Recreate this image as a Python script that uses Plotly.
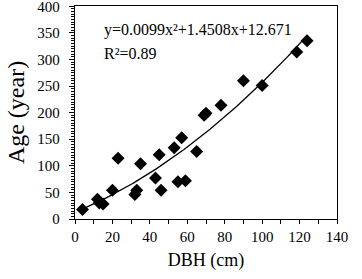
import numpy as np
import plotly.graph_objects as go

dbh = [4, 12, 13, 15, 20, 23, 32, 33, 35, 43, 45, 46, 53, 55, 57, 59, 65, 69, 70, 78, 90, 100, 118.5, 124]
age = [18, 37, 30, 28, 54, 114, 46, 54, 104, 77, 121, 54, 134, 70, 153, 72, 127, 195, 199, 214, 260, 251, 314, 335]

coef_a, coef_b, coef_c = 0.0099, 1.4508, 12.671
eq_text = "y=0.0099x²+1.4508x+12.671"
r2_text = "R²=0.89"

xf = np.linspace(min(dbh), max(dbh), 200)
yf = coef_a * xf**2 + coef_b * xf + coef_c

serif = "Liberation Serif, Times New Roman, serif"

fig = go.Figure()
fig.add_trace(go.Scatter(x=xf, y=yf, mode="lines",
                         line=dict(color="black", width=1.3), showlegend=False))
fig.add_trace(go.Scatter(x=dbh, y=age, mode="markers",
                         marker=dict(symbol="diamond", size=10, color="black"),
                         showlegend=False))

fig.add_annotation(x=14.5, y=355, xref="x", yref="y", text=eq_text, showarrow=False,
                   xanchor="left", yanchor="middle", font=dict(family=serif, size=16, color="black"))
fig.add_annotation(x=14.5, y=312, xref="x", yref="y", text=r2_text, showarrow=False,
                   xanchor="left", yanchor="middle", font=dict(family=serif, size=16, color="black"))

fig.update_layout(
    width=362, height=279,
    margin=dict(l=75, r=25, t=6, b=60),
    plot_bgcolor="white", paper_bgcolor="white",
    font=dict(family=serif, color="black"),
)
fig.update_xaxes(range=[0, 140], dtick=20, tick0=0, showgrid=False, zeroline=False,
                 showline=True, linecolor="black", linewidth=1.3, mirror=True,
                 ticks="outside", ticklen=4, tickcolor="black", automargin=False,
                 minor=dict(dtick=10, ticks="outside", ticklen=4, tickcolor="black", showgrid=False),
                 tickfont=dict(family=serif, size=15, color="black"),
                 ticklabeloverflow="allow",
                 title=dict(text="DBH (cm)", font=dict(family=serif, size=18, color="black"), standoff=9))
fig.update_yaxes(range=[0, 400.5], dtick=50, tick0=0, showgrid=False, zeroline=False,
                 showline=True, linecolor="black", linewidth=1.3, mirror=True,
                 ticks="outside", ticklen=5, tickcolor="black", automargin=False,
                 minor=dict(dtick=5, ticks="outside", ticklen=3, tickcolor="black", showgrid=False),
                 tickfont=dict(family=serif, size=15, color="black"),
                 ticklabelstandoff=6, ticklabeloverflow="allow",
                 title=dict(text="Age (year)", font=dict(family=serif, size=24, color="black"), standoff=5))

fig.write_html("out.html", config={"displayModeBar": False},
               post_script="document.body.style.margin='0';document.body.style.overflow='hidden';")
